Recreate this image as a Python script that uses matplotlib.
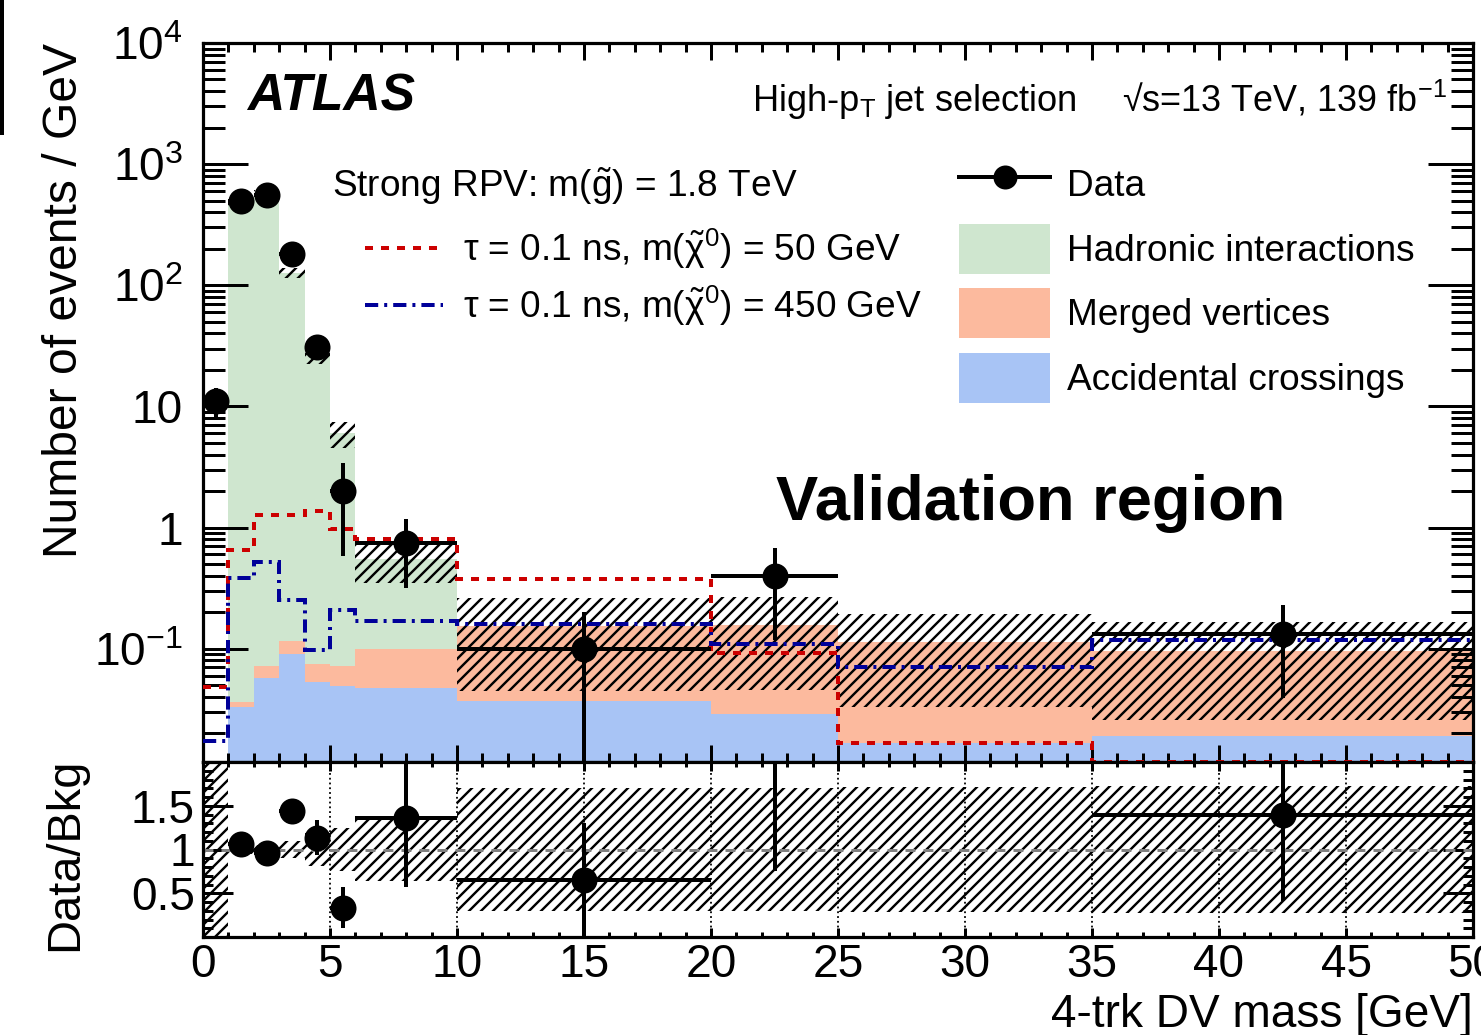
import numpy as np
import matplotlib
matplotlib.use("Agg")
import matplotlib.pyplot as plt
from matplotlib.lines import Line2D
from matplotlib.patches import Patch
from matplotlib.ticker import MultipleLocator, LogLocator, FuncFormatter, NullFormatter, FixedLocator

plt.rcParams['font.family'] = ['Liberation Sans', 'DejaVu Sans']
plt.rcParams['mathtext.fontset'] = 'custom'
plt.rcParams['mathtext.rm'] = 'Liberation Sans'
plt.rcParams['mathtext.it'] = 'Liberation Sans:italic'
plt.rcParams['mathtext.bf'] = 'Liberation Sans:bold'
plt.rcParams['hatch.linewidth'] = 1.2

# ---- binned inputs (per-GeV densities except data counts) ----
bin_edges = [0, 1, 2, 3, 4, 5, 6, 10, 20, 25, 35, 50]
data_counts = [11, 500, 560, 181, 31, 2, 3, 1, 2, 0, 2]
bkg_hadronic = [0.0, 470.0, 580.0, 126.0, 27.2, 5.93, 0.45, 0.0, 0.0, 0.0, 0.0]
bkg_merged = [0.0, 0.003, 0.015, 0.025, 0.022, 0.023, 0.053, 0.116, 0.127, 0.097, 0.077]
bkg_accidental = [0.002, 0.033, 0.057, 0.091, 0.053, 0.049, 0.047, 0.037, 0.029, 0.0167, 0.019]
bkg_uncert = [0.004, 24.0, 29.0, 12.0, 5.0, 1.5, 0.2, 0.108, 0.11, 0.081, 0.07]
sig_m50 = [0.048, 0.65, 1.26, 1.26, 1.36, 0.98, 0.81, 0.374, 0.092, 0.0165, 0.0117]
sig_m450 = [0.0174, 0.38, 0.52, 0.25, 0.098, 0.21, 0.17, 0.161, 0.110, 0.0708, 0.1175]

c_had = '#cfe6cf'
c_mer = '#fcba9e'
c_acc = '#a8c4f5'
c_red = '#cc0000'
c_blue = '#000099'
ls_red = (0, (2.0, 2.0))
ls_blue = (0, (3.3, 1.5, 0.75, 1.5))
hatch_style = '////'

edges = np.array(bin_edges, float)
widths = np.diff(edges)
centers = 0.5 * (edges[1:] + edges[:-1])
acc = np.array(bkg_accidental)
mer = np.array(bkg_merged)
had = np.array(bkg_hadronic)
unc = np.array(bkg_uncert)
lvl1 = acc
lvl2 = acc + mer
total = acc + mer + had
floor = 1e-6

counts = np.array(data_counts, float)
dens = counts / widths
derr = np.sqrt(counts) / widths
mask = counts > 0

fig = plt.figure(figsize=(1481 / 144, 1035 / 144), dpi=144)
L, W = 203 / 1481, 1270 / 1481
ax = fig.add_axes([L, 1 - 762 / 1035, W, 719 / 1035])
rax = fig.add_axes([L, 1 - 937 / 1035, W, 175 / 1035], sharex=ax)

# ---- main panel: stacked backgrounds ----
ax.stairs(lvl1, edges, baseline=floor, fill=True, color=c_acc, lw=0, zorder=1)
ax.stairs(lvl2, edges, baseline=lvl1, fill=True, color=c_mer, lw=0, zorder=1)
ax.stairs(total, edges, baseline=lvl2, fill=True, color=c_had, lw=0, zorder=1)
ax.stairs(total + unc, edges, baseline=np.clip(total - unc, floor, None), fill=True,
          facecolor='none', edgecolor='black', hatch=hatch_style, lw=0, zorder=2)

# ---- signals ----
ax.stairs(sig_m50, edges, baseline=None, color=c_red, lw=2.0, linestyle=ls_red, zorder=3)
ax.stairs(sig_m450, edges, baseline=None, color=c_blue, lw=2.0, linestyle=ls_blue, zorder=3)

# ---- data ----
ax.errorbar(centers[mask], dens[mask], xerr=widths[mask] / 2, yerr=derr[mask],
            fmt='o', color='black', ms=12, elinewidth=2.0, capsize=0, zorder=5)

ax.set_yscale('log')
ax.set_xlim(0, 50)
ax.set_ylim(0.0116, 1e4)


def log_fmt(v, pos):
    e = int(round(np.log10(v)))
    if e == 0:
        return '1'
    if e == 1:
        return '10'
    return r'$10^{%d}$' % e


ax.yaxis.set_major_locator(LogLocator(base=10, numticks=20))
ax.yaxis.set_minor_locator(LogLocator(base=10, subs=np.arange(2, 10), numticks=20))
ax.yaxis.set_major_formatter(FuncFormatter(log_fmt))
ax.yaxis.set_minor_formatter(NullFormatter())
ax.xaxis.set_major_locator(MultipleLocator(5))
ax.xaxis.set_minor_locator(MultipleLocator(1))

# ---- ratio panel ----
ratio = dens / total
rerr = derr / total
band = unc / total
rax.stairs(1 + band, edges, baseline=1 - band, fill=True, facecolor='none',
           edgecolor='black', hatch=hatch_style, lw=0, zorder=1)
rax.axhline(1.0, color='#808080', lw=1.5, linestyle=(0, (3.3, 2.7)), zorder=2)
rax.errorbar(centers[mask], ratio[mask], xerr=widths[mask] / 2, yerr=rerr[mask],
             fmt='o', color='black', ms=12, elinewidth=2.0, capsize=0, zorder=5)
rax.set_ylim(0, 2.0)
rax.yaxis.set_major_locator(FixedLocator([0.5, 1.0, 1.5]))
rax.yaxis.set_minor_locator(MultipleLocator(0.1))
rax.yaxis.set_major_formatter(FuncFormatter(lambda v, p: '%g' % v))
rax.grid(axis='x', which='major', color='black', linestyle=':', lw=0.9)

for a in (ax, rax):
    a.tick_params(which='both', direction='in', top=True, right=True,
                  width=1.5, colors='black', labelsize=23)
    for s in a.spines.values():
        s.set_linewidth(1.6)
ax.tick_params(axis='x', which='major', length=8.5, labelbottom=False)
ax.tick_params(axis='x', which='minor', length=4.5)
ax.tick_params(axis='y', which='major', length=22.5, pad=10)
ax.tick_params(axis='y', which='minor', length=11)
rax.tick_params(axis='x', which='major', length=4.5, pad=3)
rax.tick_params(axis='x', which='minor', length=2.5)
rax.tick_params(axis='y', which='major', length=15, pad=4)
rax.tick_params(axis='y', which='minor', length=5)

ax.set_ylabel('Number of events / GeV', fontsize=24, loc='top')
ax.yaxis.set_label_coords(-0.091, 1.0)
rax.set_ylabel('Data/Bkg', fontsize=23.5, loc='top')
rax.yaxis.set_label_coords(-0.091, 1.025)
rax.set_xlabel('4-trk DV mass [GeV]', fontsize=23, loc='right')
rax.xaxis.set_label_coords(1.0, -0.32)

# ---- annotations ----
ax.text(0.0346, 0.9068, 'ATLAS', transform=ax.transAxes, fontsize=25.8,
        fontweight='bold', fontstyle='italic', va='baseline', ha='left')
ax.text(0.4323, 0.9054, r'High-p$_{\mathrm{T}}$ jet selection', transform=ax.transAxes,
        fontsize=18.1, va='baseline', ha='left')
ax.text(0.7236, 0.9054, '\u221as=13 TeV, 139 fb$^{\\mathrm{-1}}$', transform=ax.transAxes,
        fontsize=18.0, va='baseline', ha='left')
ax.text(0.1016, 0.7858, r'Strong RPV: m($\tilde{\mathrm{g}}$) = 1.8 TeV', transform=ax.transAxes,
        fontsize=18.5, va='baseline', ha='left')
ax.text(0.4512, 0.3366, 'Validation region', transform=ax.transAxes, fontsize=31.6,
        fontweight='bold', va='baseline', ha='left')

sig_handles = [
    Line2D([], [], color=c_red, lw=2.0, linestyle=ls_red),
    Line2D([], [], color=c_blue, lw=2.0, linestyle=ls_blue),
]
sig_labels = [
    r'$\mathrm{\tau}$ = 0.1 ns, m($\tilde{\mathrm{\chi}}^{0}$) = 50 GeV',
    r'$\mathrm{\tau}$ = 0.1 ns, m($\tilde{\mathrm{\chi}}^{0}$) = 450 GeV',
]
leg1 = ax.legend(sig_handles, sig_labels, loc='upper left', bbox_to_anchor=(0.1276, 0.744),
                 frameon=False, fontsize=18.5, handlelength=2.1, handletextpad=0.54,
                 labelspacing=0.33, borderpad=0, borderaxespad=0)
ax.add_artist(leg1)

bkg_handles = [
    Line2D([], [], color='black', lw=2.0, marker='o', ms=11),
    Patch(facecolor=c_had, edgecolor='none'),
    Patch(facecolor=c_mer, edgecolor='none'),
    Patch(facecolor=c_acc, edgecolor='none'),
]
bkg_labels = ['Data', 'Hadronic interactions', 'Merged vertices', 'Accidental crossings']
ax.legend(bkg_handles, bkg_labels, loc='upper left', bbox_to_anchor=(0.5953, 0.8387),
          frameon=False, fontsize=18.5, handlelength=2.46, handleheight=1.70,
          handletextpad=0.46, labelspacing=0.4, borderpad=0, borderaxespad=0)

fig.add_artist(Line2D([2 / 1481, 2 / 1481], [1, 1 - 133 / 1035], transform=fig.transFigure,
                      color='black', lw=2.0))

fig.savefig('out.png', dpi=144)
